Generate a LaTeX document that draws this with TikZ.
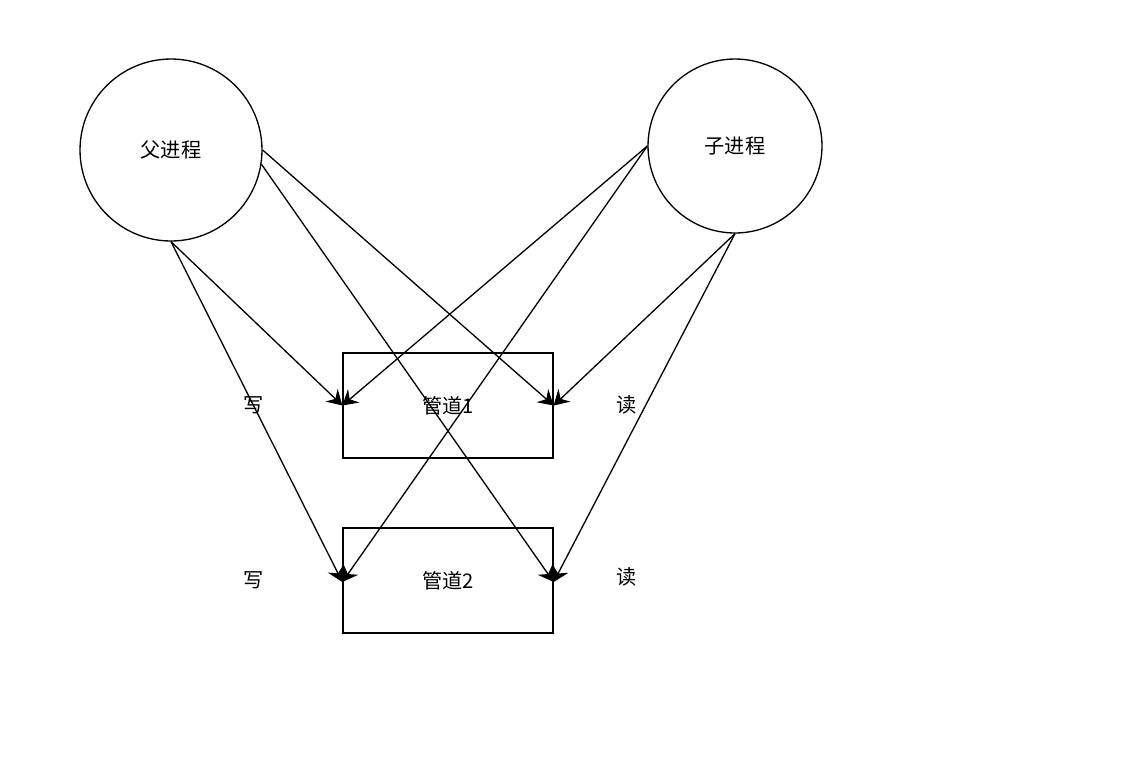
\documentclass[tikz,border=0pt]{standalone}
\usepackage{fontspec}
\setmainfont{Noto Sans CJK SC}
\usepackage{tikz}
\usetikzlibrary{arrows.meta}

\begin{document}
\begin{tikzpicture}[
        x=0.02cm,y=-0.02cm,
        proc/.style={circle,draw,line width=0.75pt,inner sep=0pt,font=\fontsize{11.5}{14}\selectfont},
        pipe/.style={rectangle,draw,line width=0.75pt,minimum width=4.2cm,minimum height=2.1cm,font=\fontsize{11.5}{14}\selectfont},
        lbl/.style={font=\fontsize{11.5}{14}\selectfont},
        arrow/.style={-{Stealth[length=8.5pt,width=10pt,inset=3pt]},line width=0.75pt}]
        \useasboundingbox (0,0) rectangle (1132,772);
        \node[proc,minimum size=3.64cm] (fu) at (171,150) {父进程};
        \node[proc,minimum size=3.48cm] (zi) at (735,146) {子进程};
        \node[pipe] (p1) at (448,405.5) {管道1};
        \node[pipe] (p2) at (448,580.5) {管道2};
        \node[lbl] (w1) at (254,405) {写};
        \node[lbl] (r1) at (627,405) {读};
        \node[lbl] (w2) at (254,580) {写};
        \node[lbl] (r2) at (627,577) {读};
        % 父进程
        \draw[arrow] (fu.south) -- (p1.west);
        \draw[arrow] (fu.south) -- ([yshift=-0.03cm]p2.west);
        \draw[arrow] (fu.east) -- (p1.east);
        \draw[arrow] (fu.-9) -- ([yshift=-0.03cm]p2.east);
        % 子进程
        \draw[arrow] (zi.west) -- (p1.west);
        \draw[arrow] (zi.west) -- ([yshift=-0.03cm]p2.west);
        \draw[arrow] (zi.south) -- (p1.east);
        \draw[arrow] (zi.south) -- ([yshift=-0.03cm]p2.east);
    \end{tikzpicture}
\end{document}
